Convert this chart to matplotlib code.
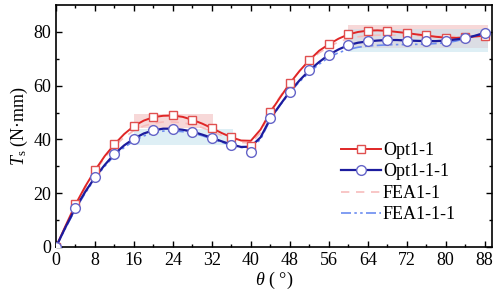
import matplotlib
matplotlib.use('Agg')
import matplotlib.pyplot as plt
import numpy as np

plt.rcParams['font.family'] = ['Liberation Serif', 'DejaVu Serif']
plt.rcParams['mathtext.fontset'] = 'custom'
plt.rcParams['mathtext.rm'] = 'Liberation Serif'
plt.rcParams['mathtext.it'] = 'Liberation Serif:italic'

# smooth curves, read every 2 degrees
theta_line = np.arange(0, 90, 2)
opt_line = [0, 8, 15.8, 22.5, 28.5, 33.8, 38.2, 42, 45, 47, 48.3, 48.8, 48.9, 48.4,
            47.3, 45.9, 44.2, 42.4, 40.8, 39.6, 39.5, 43.7, 50.2, 55.6, 60.9, 65.5,
            69.5, 73, 75.4, 77.5, 79.1, 80, 80.5, 80.6, 80.4, 80, 79.6, 79.1, 78.7,
            78.2, 77.9, 77.8, 78, 78.3, 78.6]
opt2_line = [0, 7.5, 14.5, 20.5, 25.9, 30.5, 34.6, 37.8, 40.3, 42.2, 43.4, 44, 44,
             43.6, 42.9, 41.8, 40.6, 39.3, 38.1, 37.2, 37.3, 40.8, 47.8, 52.9, 57.8,
             62, 65.7, 68.8, 71.5, 73.5, 75.1, 76, 76.5, 76.8, 77, 77, 76.8, 76.7,
             76.6, 76.6, 76.8, 77.2, 77.7, 78.6, 79.6]
fea_line = [0, 7.6, 15, 21.8, 28, 33.2, 37.5, 40.8, 43.3, 45, 46, 46.5, 46.5, 46.2,
            45.5, 44.4, 43, 41.5, 40, 38.9, 38.6, 42.5, 50.5, 56, 61, 65.5, 69.3,
            72.2, 74.5, 76.3, 77.5, 78.2, 78.6, 78.8, 78.8, 78.8, 78.8, 78.6, 78.5,
            78.4, 78.3, 78.3, 78.5, 79, 79.5]
fea2_line = [0, 7.2, 14, 20, 25.5, 30, 34, 37, 39.5, 41.3, 42.5, 43.1, 43.2, 42.9,
             42.3, 41.4, 40.2, 39, 37.8, 37, 37, 40, 47.5, 52.7, 57.5, 61.5, 65,
             68, 70.5, 72.3, 73.5, 74.3, 74.8, 75, 75.2, 75.3, 75.3, 75.4, 75.5,
             75.7, 76, 76.6, 77.5, 78.6, 79.8]

# markers every 4 degrees
theta_mk = np.arange(0, 92, 4)
opt_mk = [0, 16.0, 28.5, 38.4, 45.0, 48.5, 49.0, 47.2, 44.3, 40.9, 37.5, 50.2,
          60.9, 69.5, 75.4, 79.1, 80.4, 80.4, 79.6, 78.8, 77.9, 78.0, 78.6]
opt2_mk = [0, 14.5, 25.9, 34.6, 40.3, 43.4, 44.0, 42.9, 40.5, 37.9, 35.3, 47.8,
           57.8, 65.7, 71.5, 75.1, 76.5, 77.0, 76.8, 76.6, 76.8, 77.7, 79.6]

# shaded bands: (x0, x1, y0, y1)
red_bands = [(16, 32.3, 44.3, 49.4), (60, 88.6, 74.0, 82.7)]
blue_bands = [(16, 36.4, 37.8, 44.0), (60, 88.6, 72.6, 81.1)]

fig = plt.figure(figsize=(5, 3), dpi=100)
ax = fig.add_axes([0.112, 0.177, 0.872, 0.806])

for x0, x1, y0, y1 in red_bands:
    ax.fill_between([x0, x1], y0, y1, color='#f2b8b8', alpha=0.55, lw=0, zorder=1)
for x0, x1, y0, y1 in blue_bands:
    ax.fill_between([x0, x1], y0, y1, color='#c4e2ee', alpha=0.55, lw=0, zorder=1)

dash = (0, (5, 4))
dashdot = (0, (6, 2, 1.5, 2, 1.5, 2))
ax.plot(theta_line, fea_line, ls=dash, color='#f7bcbc', lw=1.2, zorder=2)
ax.plot(theta_line, fea2_line, ls=dashdot, color='#6b8cf0', lw=1.2, zorder=2)
ax.plot(theta_line, opt_line, color='#e02626', lw=1.4, zorder=3)
ax.plot(theta_line, opt2_line, color='#1c1c9e', lw=1.6, zorder=3)
ax.plot(theta_mk, opt_mk, 's', ms=5.5, mfc='white', mec='#e05050', mew=1.0, zorder=4)
ax.plot(theta_mk, opt2_mk, 'o', ms=7, mfc='white', mec='#6464c8', mew=1.0, zorder=5)

h1, = ax.plot([], [], '-s', color='#e02626', lw=1.4, ms=5.5, mfc='white', mec='#e05050')
h2, = ax.plot([], [], '-o', color='#1c1c9e', lw=1.6, ms=7, mfc='white', mec='#6464c8')
h3, = ax.plot([], [], ls=dash, color='#f7bcbc', lw=1.2)
h4, = ax.plot([], [], ls=dashdot, color='#6b8cf0', lw=1.2)
ax.legend([h1, h2, h3, h4], ['Opt1-1', 'Opt1-1-1', 'FEA1-1', 'FEA1-1-1'],
          frameon=False, fontsize=13, handlelength=2.2, handletextpad=0.1,
          labelspacing=0.25, loc='lower right', bbox_to_anchor=(0.955, 0.03))

ax.set_xlim(0, 89.5)
ax.set_ylim(0, 90)
ax.set_xticks(np.arange(0, 89, 8))
ax.set_xticks(np.arange(4, 89, 8), minor=True)
ax.set_yticks(np.arange(0, 81, 20))
ax.set_yticks(np.arange(10, 90, 20), minor=True)
ax.tick_params(which='both', direction='in', top=True, right=True, labelsize=13, width=1)
ax.tick_params(which='major', length=4)
ax.tick_params(which='minor', length=2)
for s in ax.spines.values():
    s.set_linewidth(1.2)

ax.set_xlabel(r'$\theta$ ( °)', fontsize=13, labelpad=1)
ax.set_ylabel(r'$T_\mathrm{s}$ (N·mm)', fontsize=13, labelpad=2)

fig.savefig('out.png', dpi=100)
